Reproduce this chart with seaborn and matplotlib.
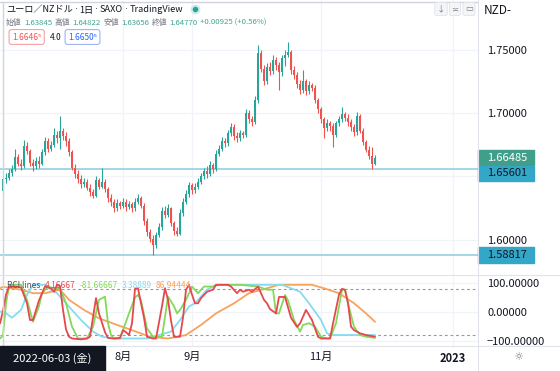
import numpy as np
import pandas as pd
import seaborn as sns
import matplotlib.pyplot as plt
from matplotlib.patches import Rectangle
from matplotlib.lines import Line2D
from matplotlib.transforms import blended_transform_factory

# EUR/NZD daily candles, 2022-06-03 .. late Nov 2022
opens = [1.63845, 1.6477, 1.6490, 1.6530, 1.6560, 1.6650, 1.6600, 1.6580, 1.6740, 1.6700,
         1.6610, 1.6580, 1.6620, 1.6600, 1.6690, 1.6780, 1.6720, 1.6750, 1.6830, 1.6800,
         1.6860, 1.6820, 1.6780, 1.6690, 1.6570, 1.6520, 1.6480, 1.6440, 1.6460, 1.6410,
         1.6380, 1.6350, 1.6470, 1.6420, 1.6460, 1.6400, 1.6330, 1.6300, 1.6250, 1.6290,
         1.6270, 1.6300, 1.6260, 1.6280, 1.6250, 1.6300, 1.6330, 1.6270, 1.6150, 1.6060,
         1.6010, 1.5960, 1.6040, 1.6100, 1.6230, 1.6200, 1.6250, 1.6130, 1.6070, 1.6050,
         1.6210, 1.6300, 1.6360, 1.6430, 1.6390, 1.6420, 1.6460, 1.6500, 1.6540, 1.6520,
         1.6590, 1.6560, 1.6680, 1.6720, 1.6780, 1.6760, 1.6840, 1.6890, 1.6820, 1.6800,
         1.6840, 1.6830, 1.7000, 1.6950, 1.6930, 1.7100, 1.7470, 1.7350, 1.7250, 1.7360,
         1.7330, 1.7420, 1.7380, 1.7320, 1.7430, 1.7460, 1.7480, 1.7340, 1.7300, 1.7230,
         1.7180, 1.7250, 1.7170, 1.7220, 1.7200, 1.7100, 1.7030, 1.6950, 1.6880, 1.6920,
         1.6900, 1.6830, 1.6920, 1.6950, 1.6990, 1.6960, 1.6930, 1.6890, 1.6850, 1.6980,
         1.6860, 1.6770, 1.6710, 1.6660, 1.6600]
highs = [1.64822, 1.6530, 1.6560, 1.6590, 1.6720, 1.6680, 1.6640, 1.6790, 1.6770, 1.6720,
         1.6640, 1.6650, 1.6660, 1.6720, 1.6810, 1.6800, 1.6780, 1.6880, 1.6860, 1.6975,
         1.6880, 1.6850, 1.6800, 1.6710, 1.6600, 1.6550, 1.6510, 1.6490, 1.6480, 1.6440,
         1.6400, 1.6500, 1.6490, 1.6565, 1.6480, 1.6420, 1.6360, 1.6320, 1.6320, 1.6310,
         1.6330, 1.6320, 1.6310, 1.6300, 1.6330, 1.6360, 1.6350, 1.6290, 1.6170, 1.6090,
         1.6040, 1.6060, 1.6130, 1.6260, 1.6270, 1.6280, 1.6260, 1.6150, 1.6100, 1.6240,
         1.6330, 1.6390, 1.6460, 1.6450, 1.6450, 1.6490, 1.6530, 1.6570, 1.6580, 1.6620,
         1.6610, 1.6710, 1.6750, 1.6810, 1.6800, 1.6870, 1.6920, 1.6910, 1.6850, 1.6870,
         1.6860, 1.7030, 1.7020, 1.6980, 1.7130, 1.7535, 1.7500, 1.7380, 1.7390, 1.7400,
         1.7460, 1.7440, 1.7400, 1.7460, 1.7500, 1.7560, 1.7500, 1.7370, 1.7320, 1.7260,
         1.7340, 1.7270, 1.7250, 1.7240, 1.7220, 1.7120, 1.7050, 1.6970, 1.6950, 1.6940,
         1.6920, 1.6940, 1.6980, 1.7050, 1.7010, 1.6990, 1.6950, 1.6910, 1.7010, 1.6990,
         1.6880, 1.6790, 1.6740, 1.6730, 1.6668]
lows = [1.63656, 1.6450, 1.6470, 1.6500, 1.6540, 1.6580, 1.6550, 1.6570, 1.6680, 1.6580,
        1.6540, 1.6560, 1.6570, 1.6590, 1.6670, 1.6690, 1.6700, 1.6730, 1.6760, 1.6720,
        1.6790, 1.6740, 1.6660, 1.6550, 1.6490, 1.6450, 1.6410, 1.6420, 1.6390, 1.6350,
        1.6330, 1.6340, 1.6400, 1.6410, 1.6380, 1.6300, 1.6270, 1.6220, 1.6230, 1.6240,
        1.6250, 1.6230, 1.6240, 1.6220, 1.6230, 1.6280, 1.6250, 1.6120, 1.6030, 1.5980,
        1.5885, 1.5940, 1.6020, 1.6080, 1.6170, 1.6180, 1.6110, 1.6040, 1.6030, 1.6040,
        1.6190, 1.6280, 1.6340, 1.6360, 1.6370, 1.6400, 1.6440, 1.6480, 1.6490, 1.6500,
        1.6530, 1.6540, 1.6660, 1.6700, 1.6730, 1.6740, 1.6820, 1.6790, 1.6770, 1.6780,
        1.6800, 1.6810, 1.6920, 1.6900, 1.6910, 1.7080, 1.7320, 1.7220, 1.7230, 1.7300,
        1.7310, 1.7340, 1.7180, 1.7290, 1.7370, 1.7440, 1.7310, 1.7270, 1.7200, 1.7150,
        1.7160, 1.7140, 1.7150, 1.7170, 1.7080, 1.7000, 1.6920, 1.6800, 1.6860, 1.6860,
        1.6730, 1.6810, 1.6900, 1.6930, 1.6940, 1.6900, 1.6860, 1.6820, 1.6830, 1.6840,
        1.6750, 1.6690, 1.6640, 1.65601, 1.6590]
closes = [1.64770, 1.6490, 1.6530, 1.6560, 1.6650, 1.6600, 1.6580, 1.6740, 1.6700, 1.6610,
          1.6580, 1.6620, 1.6600, 1.6690, 1.6780, 1.6720, 1.6750, 1.6830, 1.6800, 1.6860,
          1.6820, 1.6780, 1.6690, 1.6570, 1.6520, 1.6480, 1.6440, 1.6460, 1.6410, 1.6380,
          1.6350, 1.6470, 1.6420, 1.6460, 1.6400, 1.6330, 1.6300, 1.6250, 1.6290, 1.6270,
          1.6300, 1.6260, 1.6280, 1.6250, 1.6300, 1.6330, 1.6270, 1.6150, 1.6060, 1.6010,
          1.5960, 1.6040, 1.6100, 1.6230, 1.6200, 1.6250, 1.6130, 1.6070, 1.6050, 1.6210,
          1.6300, 1.6360, 1.6430, 1.6390, 1.6420, 1.6460, 1.6500, 1.6540, 1.6520, 1.6590,
          1.6560, 1.6680, 1.6720, 1.6780, 1.6760, 1.6840, 1.6890, 1.6820, 1.6800, 1.6840,
          1.6830, 1.7000, 1.6950, 1.6930, 1.7100, 1.7470, 1.7350, 1.7250, 1.7360, 1.7330,
          1.7420, 1.7380, 1.7320, 1.7430, 1.7460, 1.7480, 1.7340, 1.7300, 1.7230, 1.7180,
          1.7250, 1.7170, 1.7220, 1.7200, 1.7100, 1.7030, 1.6950, 1.6880, 1.6920, 1.6900,
          1.6830, 1.6920, 1.6950, 1.6990, 1.6960, 1.6930, 1.6890, 1.6850, 1.6980, 1.6860,
          1.6770, 1.6710, 1.6660, 1.6600, 1.66485]

# horizontal support lines
support_levels = [1.65601, 1.58817]

# RCI lines (bar index, value)
rci_short_idx = [-1, 0, 1, 2, 4, 6, 8, 9, 10, 12, 14, 16, 17, 18, 19, 20, 21, 22, 23, 26, 28, 29,
                 31, 32, 34, 35, 37, 39, 40, 41, 42, 43, 44, 45, 46, 47, 48, 50, 51, 53, 54, 55,
                 56, 57, 59, 60, 61, 62, 63, 64, 65, 66, 68, 70, 71, 75, 76, 78, 79, 80, 82, 83,
                 85, 87, 88, 89, 91, 92, 94, 96, 98, 99, 101, 103, 105, 106, 109, 110, 112, 113,
                 114, 115, 116, 117, 119, 121, 124]
rci_short = [-40, 4, 60, 87, 88, 85, 30, -28, -28, 40, 88, 82, 70, 94, 90, 7, -60, -86, -92, -95,
             -92, -86, 48, -5, -70, -90, -92, -90, -63, -70, -80, -40, 80, 82, 30, -20, -86, -92,
             -92, 20, 82, 42, -30, -86, -86, -20, 77, 94, 60, 30, 30, 48, 70, 77, 94, 94, 88, 65,
             77, 70, 77, 70, 88, 42, 30, 10, -5, 52, 52, -20, -52, -40, 7, -28, -86, -92, -92,
             -40, 60, 80, 77, 30, -51, -63, -74, -80, -86]
rci_mid_idx = [-1, 0, 1, 2, 3, 6, 8, 10, 12, 13, 15, 17, 19, 21, 23, 25, 28, 30, 32, 34, 35, 36,
               37, 39, 42, 44, 45, 46, 48, 50, 53, 55, 57, 58, 59, 61, 63, 65, 67, 70, 72, 76, 79,
               85, 88, 90, 91, 92, 94, 95, 97, 99, 100, 102, 103, 104, 106, 108, 109, 111, 113,
               114, 115, 117, 119, 121, 124]
rci_mid = [-92, -82, 30, 88, 94, 94, 42, -34, 20, 65, 88, 82, 82, 30, -51, -92, -92, -51, 42, 53,
           -39, -80, -92, -92, -5, 50, 59, 40, -57, -86, -86, 53, 20, -5, 7, 42, 88, 65, 88, 88,
           94, 94, 94, 88, 77, 77, -5, -5, 59, 40, -28, -68, -45, -39, -45, -51, -86, -92, -92,
           -39, 77, 77, 30, -51, -80, -86, -90]
rci_long_idx = [-1, 0, 3, 6, 8, 10, 14, 16, 18, 21, 26, 30, 33, 37, 48, 52, 56, 59, 62, 64, 68,
                71, 93, 99, 102, 106, 108, 110, 124]
rci_long = [0, 3, -20, 7, 59, 94, 94, 77, 65, 30, -28, -68, -86, -92, -92, -80, -68, -28, 19, 30,
            77, 94, 94, 70, 30, -28, -74, -80, -80]
rci_xlong_idx = [-1, 0, 3, 6, 10, 14, 19, 22, 27, 32, 38, 43, 49, 55, 61, 66, 71, 77, 82, 88, 92,
                 99, 103, 107, 112, 117, 121, 124]
rci_xlong = [82, 87, 82, 77, 65, 65, 77, 42, 7, -22, -45, -63, -86, -92, -80, -45, -5, 30, 65,
             82, 94, 94, 94, 82, 65, 30, -5, -34]

month_pos = [40, 63, 106, 150]
month_labels = ['8月', '9月', '11月', '2023']

UP = '#26a69a'
DOWN = '#ef5350'
GRID = '#f0f3fa'
SEP = '#e0e3eb'
TXT = '#131722'
GREY = '#787b86'

sns.set_theme(style="white")
plt.rcParams['font.family'] = ['Noto Sans CJK JP', 'DejaVu Sans']

W, H = 560, 371
fig = plt.figure(figsize=(5.6, 3.71), dpi=100)


def fx(x):
    return x / W


def fy(y):
    return 1 - y / H


ax = fig.add_axes([0, fy(275), 478 / W, 275 / H])
ax2 = fig.add_axes([0, fy(346), 478 / W, 71 / H])

df = pd.DataFrame({'open': opens, 'high': highs, 'low': lows, 'close': closes})
df['i'] = np.arange(len(df))
colors = np.where(df['close'] >= df['open'], UP, DOWN)

# --- price panel
ax.vlines(df['i'], df['low'], df['high'], colors=colors, lw=0.8, zorder=3)
ax.bar(df['i'], df['close'] - df['open'], bottom=df['open'], width=0.62,
       color=colors, linewidth=0, zorder=3)
for lvl in support_levels:
    ax.axhline(lvl, color='#8ccbe0', lw=1.1, zorder=2)

ax.set_xlim(-1, 158.33)
ax.set_ylim(1.5724, 1.7890)
ax.set_xticks(month_pos)
ax.set_yticks([1.60, 1.65, 1.70, 1.75])
ax.set_yticklabels(['1.60000', '', '1.70000', '1.75000'])
ax.yaxis.tick_right()
ax.tick_params(axis='y', length=0, pad=6.5, labelsize=8, labelcolor=TXT)
ax.tick_params(axis='x', length=0, labelbottom=False)
ax.grid(True, color=GRID, lw=0.9)
for s in ax.spines.values():
    s.set_visible(False)

# price tags on the right scale
trans = blended_transform_factory(ax.transAxes, ax.transData)
tags = [(1.66485, 1.66485, '#3f9f8b', 'white'),
        (1.65601, 1.65236, '#34a7c9', TXT),
        (1.58817, 1.58817, '#34a7c9', TXT)]
for val, center, face, tc in tags:
    ax.add_patch(Rectangle((1.0, center - 0.0060), 56 / 478, 0.0120, transform=trans,
                           color=face, clip_on=False, zorder=5))
    ax.text(1 + 9 / 478, center, f'{val:.5f}', transform=trans, ha='left', va='center',
            fontsize=8, color=tc, zorder=6, clip_on=False)

# --- RCI panel
for idx, vals, c in [(rci_xlong_idx, rci_xlong, '#f7a35c'),
                     (rci_long_idx, rci_long, '#86dcef'),
                     (rci_mid_idx, rci_mid, '#84d95a'),
                     (rci_short_idx, rci_short, '#e5484d')]:
    sns.lineplot(x=idx, y=vals, ax=ax2, color=c, lw=1.3, legend=False, zorder=3)
for lvl in (80, -80):
    ax2.axhline(lvl, color='#9598a1', lw=0.8, ls=(0, (2.5, 2.5)), zorder=2)

ax2.set_xlim(-1, 158.33)
ax2.set_ylim(-118, 128)
ax2.set_yticks([100, 0, -100])
ax2.set_yticklabels(['100.00000', '0.00000', '\u2212100.00000'])
ax2.yaxis.tick_right()
ax2.tick_params(axis='y', length=0, pad=6.5, labelsize=8, labelcolor=TXT)
ax2.set_xticks(month_pos)
ax2.set_xticklabels(month_labels)
ax2.tick_params(axis='x', length=0, pad=4, labelsize=8, labelcolor=TXT)
ax2.get_xticklabels()[3].set_fontweight('bold')
ax2.grid(True, color=GRID, lw=0.9)
ax2.set_xlabel('')
ax2.set_ylabel('')
for s in ax2.spines.values():
    s.set_visible(False)


def chain(axis, parts, x, y, size, gap=2.5):
    # texts laid out one after another, each starting right of the previous one
    first = parts[0]
    t = axis.annotate(first[0], xy=(fx(x), fy(y)), xycoords='figure fraction',
                      fontsize=size, color=first[1], va='center', ha='left', zorder=8,
                      family=first[2] if len(first) > 2 else None)
    for p in parts[1:]:
        t = axis.annotate(p[0], xy=(1, 0.5), xycoords=t, xytext=(gap, 0),
                          textcoords='offset points', fontsize=size, color=p[1],
                          va='center', ha='left', zorder=8,
                          family=p[2] if len(p) > 2 else None)


# legend of the RCI panel
chain(ax2, [('RCI lines', '#50535e'), ('4.16667', '#e5484d'), ('-81.66667', '#84d95a'),
            ('3.38889', '#86dcef'), ('86.94444', '#f7a35c')], 7, 286, 6, gap=3)

# header
VAL = '#3fa58f'
DOT = ['DejaVu Sans']
chain(ax, [('ユーロ／NZドル', TXT), ('·', TXT, DOT), ('1日', TXT), ('·', TXT, DOT),
           ('SAXO', TXT), ('·', TXT, DOT), ('TradingView', TXT)], 6, 10, 6.6, gap=1.3)
ax.plot([fx(195)], [fy(9)], 'o', ms=6, color='#cdeee6', transform=fig.transFigure,
        clip_on=False, zorder=8)
ax.plot([fx(195)], [fy(9)], 'o', ms=3, color=UP, transform=fig.transFigure,
        clip_on=False, zorder=9)
chain(ax, [('始値', GREY), ('1.63845', VAL), ('高値', GREY), ('1.64822', VAL),
           ('安値', GREY), ('1.63656', VAL), ('終値', GREY), ('1.64770', VAL),
           ('+0.00925 (+0.56%)', VAL)], 6, 23, 5.6, gap=1.8)
ax.annotate('1.6646\u2075', xy=(fx(12), fy(37)), xycoords='figure fraction', fontsize=6,
            color=DOWN, va='center', zorder=8,
            bbox=dict(boxstyle='round,pad=0.35,rounding_size=0.3', fc='white', ec='#f4a3a1', lw=0.8))
ax.annotate('4.0', xy=(fx(50), fy(37)), xycoords='figure fraction', fontsize=6,
            color=TXT, va='center', zorder=8)
ax.annotate('1.6650\u2075', xy=(fx(68), fy(37)), xycoords='figure fraction', fontsize=6,
            color='#2962ff', va='center', zorder=8,
            bbox=dict(boxstyle='round,pad=0.35,rounding_size=0.3', fc='white', ec='#9fb5f5', lw=0.8))

# top-right buttons and currency
for x, g in [(441, '↓'), (455, '≍'), (469, '▭')]:
    fig.text(fx(x), fy(9), g, fontsize=6, color=GREY, ha='center', va='center',
             bbox=dict(boxstyle='round,pad=0.25', fc='#f4f5f7', ec='#e0e3eb', lw=0.6))
fig.text(fx(484), fy(10), 'NZD-', fontsize=8.5, color=TXT, ha='left', va='center')

# frame / separators
fig.add_artist(Line2D([0, fx(478)], [fy(1.5), fy(1.5)], color='#d1d4dc', lw=1))
fig.add_artist(Line2D([fx(2.5), fx(2.5)], [fy(2), fy(346)], color='#d1d4dc', lw=1))
fig.add_artist(Line2D([fx(478), fx(478)], [0, 1], color=SEP, lw=0.8))
fig.add_artist(Line2D([0, 1], [fy(275), fy(275)], color=SEP, lw=0.8))
fig.add_artist(Line2D([0, 1], [fy(346), fy(346)], color=SEP, lw=0.8))

# crosshair date label and settings icon
fig.add_artist(Rectangle((0, 0), fx(105), 25 / H, transform=fig.transFigure,
                         color='#131722', zorder=10))
fig.text(fx(52), fy(358), '2022-06-03 (金)', fontsize=8, color='white', ha='center',
         va='center', zorder=11)
fig.text(fx(518), fy(357), '☼', fontsize=8, color=GREY, ha='center', va='center')

fig.savefig('out.png', dpi=100)
